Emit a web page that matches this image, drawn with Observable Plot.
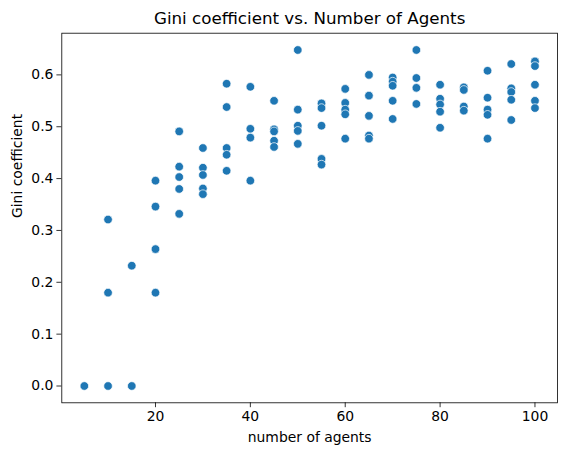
<!DOCTYPE html>
<html>
<head>
<meta charset="utf-8">
<script src="https://cdn.jsdelivr.net/npm/d3@7"></script>
<script src="https://cdn.jsdelivr.net/npm/@observablehq/plot@0.6"></script>
<style>
  html, body { margin: 0; padding: 0; background: #fff; }
  #chart svg { display: block; }
</style>
</head>
<body>
<div id="chart"></div>
<script>
// Number of agents per run and the resulting Gini coefficient
const agentCounts = [
  5,
  10, 10, 10,
  15, 15,
  20, 20, 20, 20,
  25, 25, 25, 25, 25,
  30, 30, 30, 30, 30,
  35, 35, 35, 35, 35,
  40, 40, 40, 40,
  45, 45, 45, 45, 45,
  50, 50, 50, 50, 50,
  55, 55, 55, 55, 55,
  60, 60, 60, 60, 60,
  65, 65, 65, 65, 65,
  70, 70, 70, 70, 70,
  75, 75, 75, 75,
  80, 80, 80, 80, 80,
  85, 85, 85, 85,
  90, 90, 90, 90, 90,
  95, 95, 95, 95, 95,
  100, 100, 100, 100, 100
];
const giniValues = [
  0.0,
  0.321, 0.180, 0.0,
  0.232, 0.0,
  0.396, 0.346, 0.264, 0.180,
  0.491, 0.423, 0.403, 0.380, 0.332,
  0.459, 0.421, 0.407, 0.381, 0.370,
  0.583, 0.538, 0.459, 0.446, 0.415,
  0.577, 0.496, 0.479, 0.396,
  0.550, 0.495, 0.491, 0.473, 0.461,
  0.648, 0.533, 0.502, 0.492, 0.467,
  0.545, 0.536, 0.502, 0.438, 0.427,
  0.573, 0.546, 0.533, 0.524, 0.477,
  0.600, 0.560, 0.521, 0.483, 0.477,
  0.595, 0.587, 0.579, 0.550, 0.515,
  0.648, 0.594, 0.575, 0.544,
  0.581, 0.554, 0.543, 0.529, 0.498,
  0.576, 0.571, 0.539, 0.531,
  0.608, 0.556, 0.533, 0.523, 0.477,
  0.621, 0.574, 0.567, 0.552, 0.513,
  0.626, 0.617, 0.581, 0.550, 0.536
];
const xTicks = [20, 40, 60, 80, 100];
const yTicks = [0.0, 0.1, 0.2, 0.3, 0.4, 0.5, 0.6];

const titleText = "Gini coefficient vs. Number of Agents";
const xLabel = "number of agents";
const yLabel = "Gini coefficient";

const data = agentCounts.map((a, i) => ({agents: a, gini: giniValues[i]}));

// matplotlib-style 5% margins around the data range
const xMin = d3.min(agentCounts), xMax = d3.max(agentCounts);
const yMin = d3.min(giniValues), yMax = d3.max(giniValues);
const xPad = (xMax - xMin) * 0.05, yPad = (yMax - yMin) * 0.05;

const W = 567, H = 455;
const mL = 61.3, mR = 10, mT = 32.7, mB = 52.7;

const chart = Plot.plot({
  width: W,
  height: H,
  marginLeft: mL,
  marginRight: mR,
  marginTop: mT,
  marginBottom: mB,
  style: {fontFamily: "DejaVu Sans", fontSize: "13.9px", color: "#000", background: "#fff"},
  x: {domain: [xMin - xPad, xMax + xPad]},
  y: {domain: [yMin - yPad, yMax + yPad]},
  marks: [
    Plot.dot(data, {x: "agents", y: "gini", r: 4.3, fill: "#1f77b4", stroke: "#fff", strokeWidth: 0.7}),
    Plot.frame({stroke: "#000", strokeWidth: 0.8}),
    Plot.axisX({ticks: xTicks, tickSize: 4.9, tickPadding: 3.5, strokeWidth: 0.8, label: null, fontSize: 13.9, tickFormat: d => String(d)}),
    Plot.axisY({ticks: yTicks, tickSize: 4.9, tickPadding: 3.5, strokeWidth: 0.8, label: null, fontSize: 13.9, tickFormat: d3.format(".1f")}),
    Plot.text([titleText], {frameAnchor: "top", text: d => d, dy: -14.5, fontSize: 16.7, lineAnchor: "middle", fill: "#000"}),
    Plot.text([xLabel], {frameAnchor: "bottom", text: d => d, dy: 34.5, fontSize: 13.9, lineAnchor: "middle", fill: "#000"}),
    Plot.text([yLabel], {frameAnchor: "left", text: d => d, dx: -44.5, rotate: -90, fontSize: 13.9, lineAnchor: "middle", fill: "#000"})
  ]
});
document.getElementById("chart").appendChild(chart);
</script>
</body>
</html>
